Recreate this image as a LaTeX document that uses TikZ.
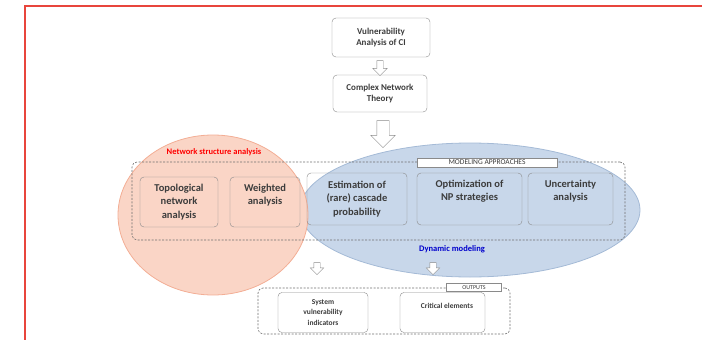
\documentclass[tikz,border=0pt]{standalone}
\usepackage{fontspec}
\setmainfont{Carlito}
\usetikzlibrary{shapes.arrows}

\definecolor{framered}{HTML}{E8453C}
\definecolor{salmonfill}{HTML}{FAD5C6}
\definecolor{salmonline}{HTML}{F3AE95}
\definecolor{bluefill}{HTML}{C8D7EA}
\definecolor{blueline}{HTML}{A4BAD6}
\definecolor{boxgray}{HTML}{8A8A8A}
\definecolor{dashgray}{HTML}{6E6E6E}
\definecolor{textgray}{HTML}{3C3C3C}

\tikzset{
  box/.style={draw=boxgray, rounded corners=4pt, align=center, text=textgray, inner sep=1pt},
  group/.style={draw=dashgray, line width=0.6pt, dash pattern=on 2pt off 1.5pt, rounded corners=5pt, inner sep=0pt},
  tag/.style={draw=boxgray, fill=white, inner sep=0pt, text=textgray},
  hollow/.style={draw=boxgray, fill=white, shape=single arrow, rotate=-90,
    inner xsep=0pt, single arrow head indent=0pt}
}

\begin{document}
\begin{tikzpicture}[x=1pt,y=-1pt]
  \useasboundingbox (0,0) rectangle (702,340);

  % frame
  \draw[framered, line width=1.4pt] (25,341) -- (25,6) -- (703,6);

  % the two fields
  \draw[fill=bluefill, draw=blueline, line width=0.8pt] (470,210) ellipse [x radius=170pt, y radius=67pt];
  \draw[fill=salmonfill, draw=salmonline, line width=0.8pt] (213,215) ellipse [x radius=95pt, y radius=80pt];
  \node[text=red, font=\bfseries\fontsize{8.5}{10}\selectfont] (netlabel) at (214,152) {Network structure analysis};
  \node[text=blue!80!black, font=\bfseries\fontsize{8.5}{10}\selectfont] (dynlabel) at (452,249) {Dynamic modeling};

  % top of the chart
  \node[box, minimum width=98pt, minimum height=39pt, font=\bfseries\fontsize{9}{10.5}\selectfont] (vuln) at (381,37.5) {Vulnerability\\Analysis of CI};
  \node[box, minimum width=94pt, minimum height=37pt, font=\bfseries\fontsize{9}{10.5}\selectfont] (cnt) at (380,93.5) {Complex Network\\Theory};
  \node[hollow, minimum height=15pt, inner ysep=3pt, single arrow head extend=4pt] (a1) at (380,66.5) {};
  \node[hollow, minimum height=27pt, inner ysep=6pt, single arrow head extend=6pt] (a2) at (383,131) {};

  % modeling approaches
  \node[group, minimum width=493pt, minimum height=78pt] (model) at (378.5,201) {};
  \node[tag, minimum width=140pt, minimum height=9pt, font=\fontsize{7.5}{8}\selectfont] (modtag) at (487,162.5) {MODELING APPROACHES};

  \begin{scope}[every node/.append style={font=\bfseries\fontsize{10.5}{13.5}\selectfont}]
    \node[box, minimum width=78pt, minimum height=50pt] (topo) at (179,202) {Topological\\network\\analysis};
    \node[box, minimum width=70pt, minimum height=50pt] (weight) at (265,202) {Weighted\\analysis\\[2pt]};
    \node[box, minimum width=100pt, minimum height=52pt] (estim) at (357,199) {Estimation of\\(rare) cascade\\probability};
    \node[box, minimum width=105pt, minimum height=52pt] (optim) at (469.5,199) {Optimization of\\NP strategies\\[4pt]};
    \node[box, minimum width=85pt, minimum height=52pt] (uncert) at (570.5,199) {Uncertainty\\analysis\\[4pt]};
  \end{scope}

  % outputs
  \node[hollow, minimum height=12pt, inner ysep=3pt, single arrow head extend=3.5pt] (a3) at (317,267) {};
  \node[hollow, minimum height=12pt, inner ysep=3pt, single arrow head extend=3.5pt] (a4) at (433,267) {};
  \node[group, minimum width=252pt, minimum height=46pt] (outs) at (384,311) {};
  \node[tag, minimum width=55pt, minimum height=8pt, font=\fontsize{6}{7}\selectfont] (outtag) at (474,287.5) {OUTPUTS};

  \node[box, minimum width=90pt, minimum height=40pt, font=\bfseries\fontsize{7.5}{10.5}\selectfont] (sysvul) at (323,312.5) {System\\vulnerability\\indicators};
  \node[box, minimum width=85pt, minimum height=40pt] (crit) at (442.5,312.5) {};
  \node[text=textgray, font=\bfseries\fontsize{7.5}{10.5}\selectfont] (crittext) at (447,306) {Critical elements};
\end{tikzpicture}
\end{document}
